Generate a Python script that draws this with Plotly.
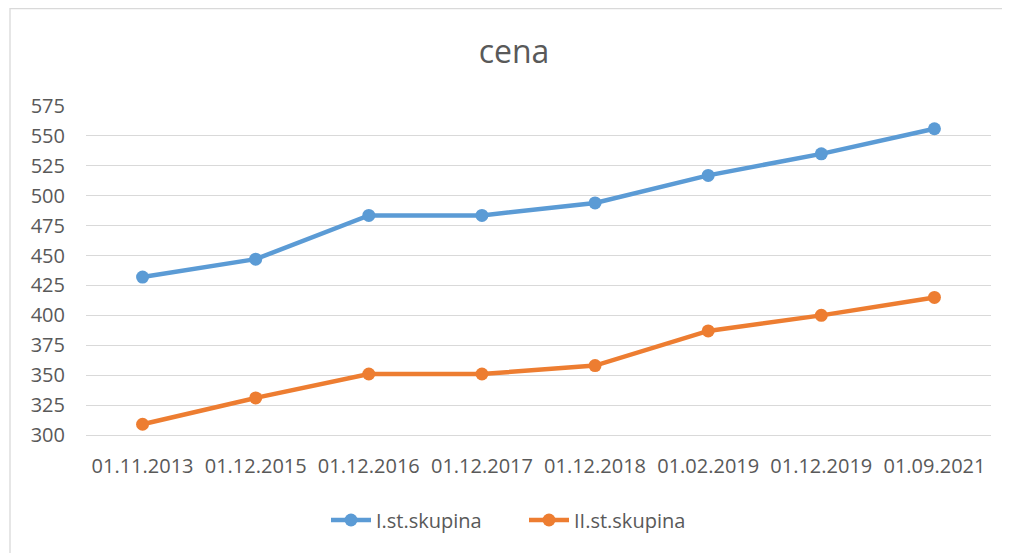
import plotly.graph_objects as go

categories = ["01.11.2013", "01.12.2015", "01.12.2016", "01.12.2017",
              "01.12.2018", "01.02.2019", "01.12.2019", "01.09.2021"]
series1_name = "I.st.skupina"
series1 = [432, 447, 483.5, 483.5, 494, 517, 535, 556]
series2_name = "II.st.skupina"
series2 = [309, 331, 351, 351, 358, 387, 400, 415]
y_ticks = [300, 325, 350, 375, 400, 425, 450, 475, 500, 525, 550, 575]

BLUE = "#5B9BD5"
ORANGE = "#ED7D31"
TEXT = "#595959"
GRID = "#D9D9D9"
FONT = "Open Sans"

fig = go.Figure()
fig.add_trace(go.Scatter(x=categories, y=series1, name=series1_name, mode="lines+markers",
                         line=dict(color=BLUE, width=4.5), marker=dict(color=BLUE, size=13)))
fig.add_trace(go.Scatter(x=categories, y=series2, name=series2_name, mode="lines+markers",
                         line=dict(color=ORANGE, width=4.5), marker=dict(color=ORANGE, size=13)))

# page has an 8px body margin, so the figure is laid out 8px up/left
OFF = 8
W, H = 1010 - OFF, 553 - OFF
L, T = 86 - OFF, 106 - OFF
pw, ph = 905, 329
R, B = W - L - pw, H - T - ph

def py(page_y):
    return (T + ph - (page_y - OFF)) / ph

def px(page_x):
    return (page_x - OFF - L) / pw

fig.update_layout(
    width=W, height=H,
    margin=dict(l=L, r=R, t=T, b=B, autoexpand=False),
    paper_bgcolor="white", plot_bgcolor="white",
    font=dict(family=FONT, color=TEXT, size=20),
    title=dict(text="cena", x=(514 - OFF) / W, xanchor="center", xref="container",
               y=1 - (52 - OFF) / H, yanchor="middle", yref="container",
               font=dict(size=32, color=TEXT, family=FONT)),
    showlegend=True,
    legend=dict(orientation="h", x=px(326), xanchor="left", y=py(520),
                yanchor="middle", font=dict(size=20, color=TEXT), itemwidth=40,
                entrywidth=143, entrywidthmode="pixels"),
    xaxis=dict(type="category", range=[-0.5, len(categories) - 0.5], showgrid=False,
               showline=True, linecolor=GRID, linewidth=1, ticks="", ticklabelstandoff=13,
               tickfont=dict(size=20, color=TEXT), zeroline=False, fixedrange=True),
    yaxis=dict(range=[300, 575], tickvals=y_ticks, showgrid=True, gridcolor=GRID, gridwidth=1.3,
               showline=False, zeroline=False, ticks="", ticklabelstandoff=20,
               tickfont=dict(size=20, color=TEXT), fixedrange=True),
    shapes=[dict(type="rect", xref="paper", yref="paper",
                 x0=px(10), x1=px(1006),
                 y0=py(570), y1=py(8.7),
                 line=dict(color=GRID, width=1.3), fillcolor="rgba(0,0,0,0)", layer="below")],
)

fig.write_html("out.html")
